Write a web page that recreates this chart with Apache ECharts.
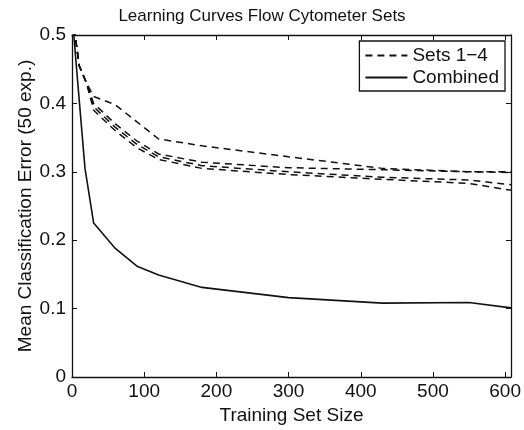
<!DOCTYPE html>
<html>
<head>
<meta charset="utf-8">
<script src="https://cdn.jsdelivr.net/npm/echarts@6/dist/echarts.min.js"></script>
<style>html,body{margin:0;padding:0;background:#fff}#c{width:524px;height:430px}</style>
</head>
<body>
<div id="c"></div>
<script>
const titleText = 'Learning Curves Flow Cytometer Sets';
const xName = 'Training Set Size';
const yName = 'Mean Classification Error (50 exp.)';
const setsName = 'Sets 1\u22124';
const combName = 'Combined';

const setsX = [3, 10, 20, 30, 60, 90, 120, 180, 300, 430, 550, 608];
const set1 = [0.51, 0.455, 0.43, 0.41, 0.398, 0.373, 0.348, 0.338, 0.322, 0.305, 0.300, 0.300];
const set2 = [0.51, 0.455, 0.43, 0.40, 0.370, 0.345, 0.326, 0.314, 0.306, 0.303, 0.300, 0.299];
const set3 = [0.51, 0.455, 0.43, 0.395, 0.365, 0.340, 0.322, 0.309, 0.300, 0.292, 0.288, 0.281];
const set4 = [0.51, 0.455, 0.43, 0.39, 0.360, 0.335, 0.318, 0.305, 0.296, 0.289, 0.283, 0.273];

const combX = [1, 6, 18, 30, 60, 90, 120, 180, 300, 430, 550, 608];
const combined = [0.52, 0.455, 0.305, 0.225, 0.188, 0.162, 0.149, 0.131, 0.116, 0.108, 0.109, 0.101];

const xTicks = [0, 100, 200, 300, 400, 500, 600];
const yTicks = [0, 0.1, 0.2, 0.3, 0.4, 0.5];

const FONT = 'Liberation Sans, Arial, sans-serif';
const INK = '#111';

function pairs(xs, ys) { return xs.map((x, i) => [x, ys[i]]); }

const dashed = { color: INK, width: 1.5, type: [7, 5] };
const setSeries = [set1, set2, set3, set4].map(s => ({
  name: setsName, type: 'line', symbol: 'none', xAxisIndex: 0, yAxisIndex: 0,
  data: pairs(setsX, s), lineStyle: dashed, itemStyle: { color: INK }, clip: true
}));

const chart = echarts.init(document.getElementById('c'), null, { renderer: 'canvas' });
chart.setOption({
  animation: false,
  backgroundColor: '#fff',
  textStyle: { fontFamily: FONT, color: INK },
  title: {
    text: titleText, left: 'center', top: 3,
    textStyle: { fontFamily: FONT, fontSize: 17, fontWeight: 'normal', color: INK }
  },
  legend: {
    data: [setsName, combName],
    orient: 'vertical', right: 19, top: 41,
    backgroundColor: '#fff', borderColor: INK, borderWidth: 1.3,
    padding: [5, 6, 4, 5], itemGap: 3, itemWidth: 42, itemHeight: 14,
    itemStyle: { opacity: 0 },
    textStyle: { fontFamily: FONT, fontSize: 19, color: INK }
  },
  grid: { left: 72, right: 13, top: 35, bottom: 49, containLabel: false },
  xAxis: [{
    type: 'value', min: 0, max: 608, interval: 100,
    name: xName, nameLocation: 'middle', nameGap: 29, nameMoveOverlap: false,
    nameTextStyle: { fontFamily: FONT, fontSize: 19, color: INK },
    axisLine: { onZero: false, lineStyle: { color: INK, width: 1.3 } },
    axisTick: { inside: true, length: 5, lineStyle: { color: INK } },
    axisLabel: { fontFamily: FONT, fontSize: 19, color: INK, margin: 5, showMaxLabel: false,
      formatter: v => xTicks.includes(v) ? String(v) : '' },
    splitLine: { show: false }
  }, {
    type: 'value', min: 0, max: 608, interval: 100, position: 'top',
    axisLine: { onZero: false, lineStyle: { color: INK, width: 1.3 } },
    axisTick: { inside: true, length: 5, lineStyle: { color: INK } },
    axisLabel: { show: false }, splitLine: { show: false }
  }],
  yAxis: [{
    type: 'value', min: 0, max: 0.5, interval: 0.1,
    name: yName, nameLocation: 'middle', nameGap: 37, nameRotate: 90, nameMoveOverlap: false,
    nameTextStyle: { fontFamily: FONT, fontSize: 19, color: INK },
    axisLine: { onZero: false, lineStyle: { color: INK, width: 1.3 } },
    axisTick: { inside: true, length: 5, lineStyle: { color: INK } },
    axisLabel: { fontFamily: FONT, fontSize: 19, color: INK, margin: 6,
      formatter: v => { const t = yTicks.find(k => Math.abs(k - v) < 1e-9); return t === undefined ? '' : (t === 0 ? '0' : t.toFixed(1)); } },
    splitLine: { show: false }
  }, {
    type: 'value', min: 0, max: 0.5, interval: 0.1, position: 'right',
    axisLine: { onZero: false, lineStyle: { color: INK, width: 1.3 } },
    axisTick: { inside: true, length: 5, lineStyle: { color: INK } },
    axisLabel: { show: false }, splitLine: { show: false }
  }],
  series: setSeries.concat([{
    name: combName, type: 'line', symbol: 'none', xAxisIndex: 0, yAxisIndex: 0,
    data: pairs(combX, combined), lineStyle: { color: INK, width: 1.6, type: 'solid' },
    itemStyle: { color: INK }, clip: true
  }])
});
</script>
</body>
</html>
